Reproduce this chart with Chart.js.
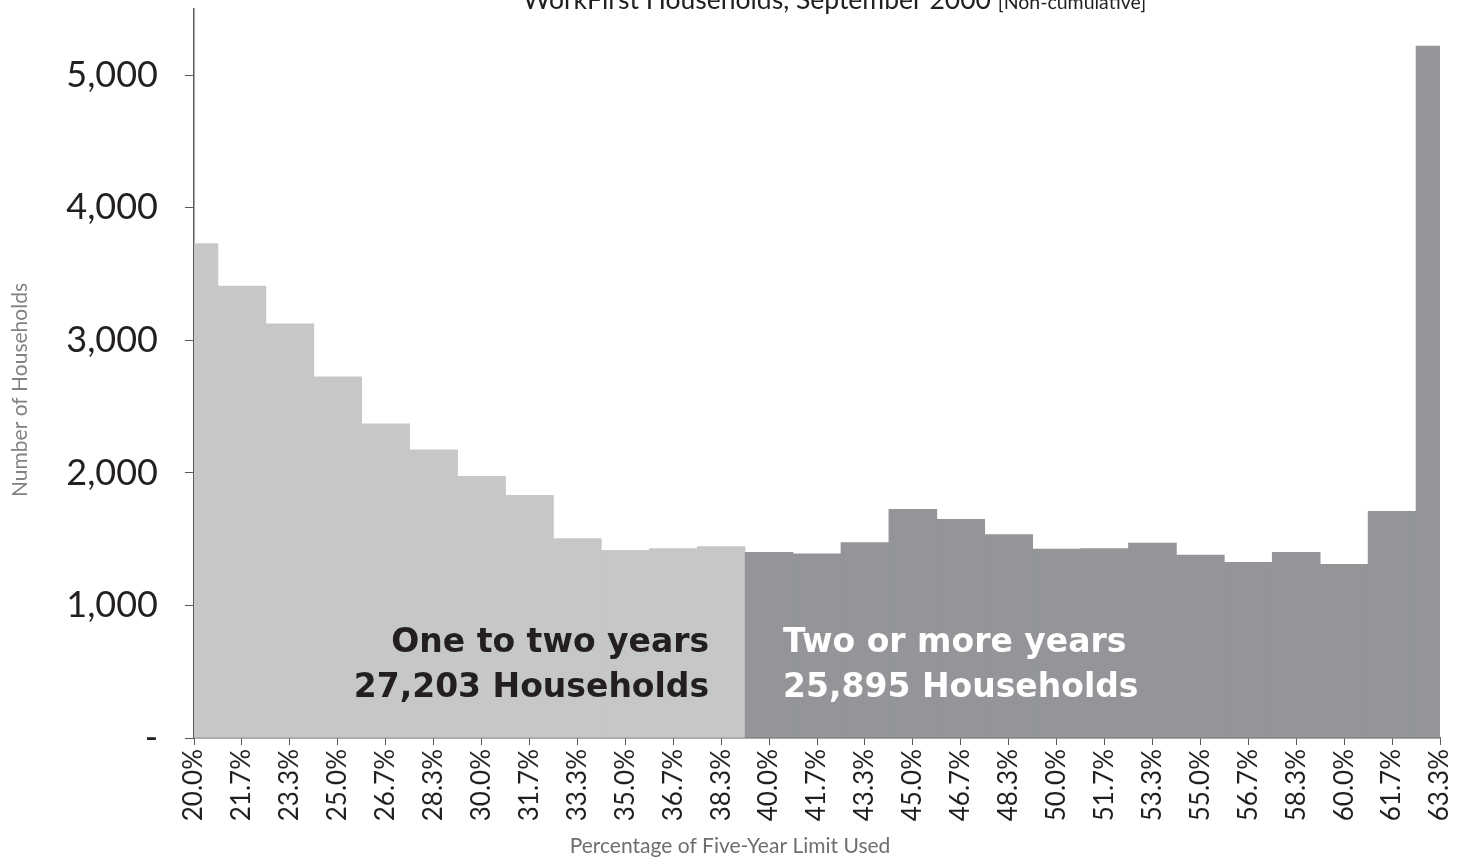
<!DOCTYPE html>
<html>
<head>
<meta charset="utf-8">
<script src="https://cdn.jsdelivr.net/npm/chart.js@4/dist/chart.umd.min.js"></script>
<style>
	body { margin: 0; background: #fff; }
	#wrap { width: 1459px; height: 861px; position: relative; }
</style>
</head>
<body>
<div id="wrap"><canvas id="graph_households"></canvas></div>
<script>
// x축 : 5년 한도 사용 비율
const limitUsed = ["20.0%", "21.7%", "23.3%", "25.0%", "26.7%", "28.3%", "30.0%", "31.7%", "33.3%",
	"35.0%", "36.7%", "38.3%", "40.0%", "41.7%", "43.3%", "45.0%", "46.7%", "48.3%", "50.0%",
	"51.7%", "53.3%", "55.0%", "56.7%", "58.3%", "60.0%", "61.7%", "63.3%"];

// y축 : 가구 수
const households = [3730, 3410, 3125, 2725, 2370, 2175, 1975, 1830, 1505, 1415, 1430, 1445,
	1400, 1390, 1475, 1725, 1650, 1535, 1425, 1430, 1470, 1380, 1325, 1400, 1310, 1710, 5220];

// 앞쪽 12개 = 1~2년, 나머지 = 2년 이상
const groupOneToTwo = 12;
const groupLabels = ["One to two years", "Two or more years"];
const groupTotals = ["27,203 Households", "25,895 Households"];
const yTicks = [0, 1000, 2000, 3000, 4000, 5000];

const lightGrey = "#c6c7c9";
const darkGrey = "#939598";
const ink = "#231f20";
const axisColor = "#58595b";

let barColors = households.map(function(v, i) {
	return i < groupOneToTwo ? lightGrey : darkGrey;
});

// 축 라벨 때문에 생기는 여백 제거
function noPadding(scale) {
	scale.paddingTop = 0;
	scale.paddingBottom = 0;
	scale.paddingLeft = 0;
	scale.paddingRight = 0;
}

// 제목, 축 제목, 주석 텍스트
const textPlugin = {
	id: "textPlugin",
	afterDatasetsDraw(chart) {
		const ctx = chart.ctx;
		const x = chart.scales.x;
		const split = x.getPixelForValue(groupOneToTwo - 0.5);
		ctx.save();
		ctx.font = "bold 33px 'DejaVu Sans'";
		ctx.textBaseline = "alphabetic";
		ctx.fillStyle = ink;
		ctx.textAlign = "right";
		ctx.fillText(groupLabels[0], split - 36, 652);
		ctx.fillText(groupTotals[0], split - 36, 697);
		ctx.fillStyle = "#ffffff";
		ctx.textAlign = "left";
		ctx.fillText(groupLabels[1], split + 38, 652);
		ctx.fillText(groupTotals[1], split + 38, 697);
		ctx.restore();
	},
	afterDraw(chart) {
		const ctx = chart.ctx;
		ctx.save();
		// 상단 제목 (위쪽이 잘려 있음)
		ctx.fillStyle = ink;
		ctx.textBaseline = "alphabetic";
		ctx.textAlign = "left";
		ctx.font = "26.5px Lato";
		let main = "WorkFirst Households, September 2000 ";
		let w = ctx.measureText(main).width;
		ctx.fillText(main, 523, 9);
		ctx.font = "19.5px Lato";
		ctx.fillText("[Non-cumulative]", 523 + w, 9);

		// x축 제목
		ctx.fillStyle = "#6d6e71";
		ctx.font = "21px Lato";
		ctx.textAlign = "center";
		ctx.fillText("Percentage of Five-Year Limit Used", 730, 853);

		// y축 제목
		ctx.translate(27, 390);
		ctx.rotate(-Math.PI / 2);
		ctx.fillStyle = "#808285";
		ctx.font = "21px Lato";
		ctx.fillText("Number of Households", 0, 0);
		ctx.restore();
	}
};

const ctx = document.getElementById("graph_households").getContext("2d");
let householdChart = new Chart(ctx, {
	type: "bar",
	data: {
		labels: limitUsed,
		datasets: [{
			label: "Households",
			data: households,
			backgroundColor: barColors,
			borderWidth: 0,
			barPercentage: 1,
			categoryPercentage: 1
		}]
	},
	options: {
		responsive: true,
		maintainAspectRatio: false,
		animation: false,
		layout: {
			padding: { top: 9, right: 19, left: 0, bottom: 0 }
		},
		plugins: {
			legend: { display: false },
			tooltip: { enabled: false },
			title: { display: false }
		},
		scales: {
			x: {
				offset: false,
				grid: {
					offset: false,
					drawOnChartArea: false,
					drawTicks: true,
					tickLength: 7,
					color: axisColor
				},
				border: { display: true, color: axisColor, width: 1.5 },
				ticks: {
					autoSkip: false,
					maxRotation: 90,
					minRotation: 90,
					padding: 4,
					color: ink,
					font: { family: "Lato", size: 26 }
				},
				afterFit: function(scale) {
					scale.height = 123;
					noPadding(scale);
				}
			},
			y: {
				min: 0,
				max: 5500,
				grid: {
					drawOnChartArea: false,
					drawTicks: true,
					tickLength: 9,
					color: axisColor
				},
				border: { display: true, color: axisColor, width: 1.5 },
				afterBuildTicks: function(scale) {
					scale.ticks = yTicks.map(function(v) { return { value: v }; });
				},
				ticks: {
					padding: 27,
					color: ink,
					font: { family: "Lato", size: 36 },
					callback: function(value) {
						return value === 0 ? "-" : value.toLocaleString("en-US");
					}
				},
				afterFit: function(scale) {
					scale.width = 194;
					noPadding(scale);
				}
			}
		}
	},
	plugins: [textPlugin]
});
</script>
</body>
</html>
